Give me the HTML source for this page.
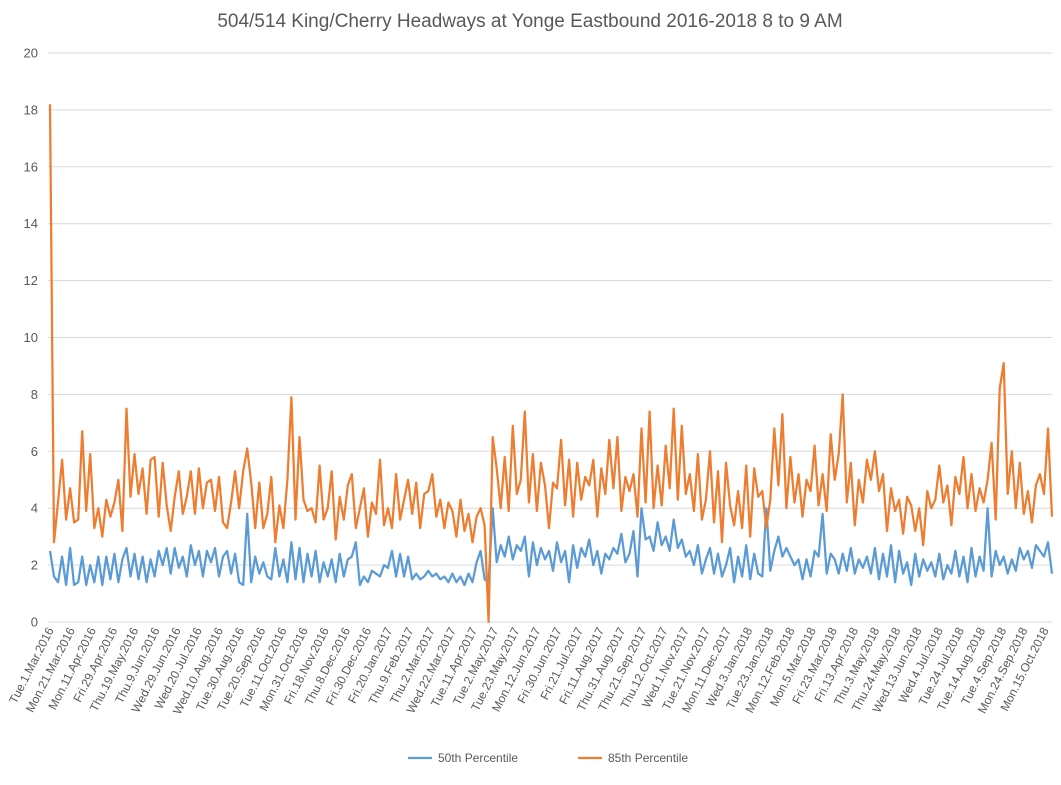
<!DOCTYPE html>
<html><head><meta charset="utf-8"><style>
body{margin:0;background:#fff;font-family:"Liberation Sans",sans-serif;}
svg text{font-family:"Liberation Sans",sans-serif;fill:#595959;}
</style></head><body>
<svg id="chart" width="1061" height="780" xmlns="http://www.w3.org/2000/svg">
<text x="530" y="27" text-anchor="middle" font-size="19">504/514 King/Cherry Headways at Yonge Eastbound 2016-2018 8 to 9 AM</text>
<g id="grid"></g>
<g id="yaxis"></g>
<g id="xaxis"></g>
<g id="series"></g>
<g>
<line x1="408" y1="758" x2="432" y2="758" stroke="#5B9BD5" stroke-width="2.25"/>
<text x="438" y="762" font-size="12">50th Percentile</text>
<line x1="578" y1="758" x2="602" y2="758" stroke="#ED7D31" stroke-width="2.25"/>
<text x="608" y="762" font-size="12">85th Percentile</text>
</g>
</svg>
<script>
const yTicks=[0,2,4,6,8,10,12,14,16,18,20];
const dateLabels=["Tue.1.Mar.2016","Mon.21.Mar.2016","Mon.11.Apr.2016","Fri.29.Apr.2016","Thu.19.May.2016","Thu.9.Jun.2016","Wed.29.Jun.2016","Wed.20.Jul.2016","Wed.10.Aug.2016","Tue.30.Aug.2016","Tue.20.Sep.2016","Tue.11.Oct.2016","Mon.31.Oct.2016","Fri.18.Nov.2016","Thu.8.Dec.2016","Fri.30.Dec.2016","Fri.20.Jan.2017","Thu.9.Feb.2017","Thu.2.Mar.2017","Wed.22.Mar.2017","Tue.11.Apr.2017","Tue.2.May.2017","Tue.23.May.2017","Mon.12.Jun.2017","Fri.30.Jun.2017","Fri.21.Jul.2017","Fri.11.Aug.2017","Thu.31.Aug.2017","Thu.21.Sep.2017","Thu.12.Oct.2017","Wed.1.Nov.2017","Tue.21.Nov.2017","Mon.11.Dec.2017","Wed.3.Jan.2018","Tue.23.Jan.2018","Mon.12.Feb.2018","Mon.5.Mar.2018","Fri.23.Mar.2018","Fri.13.Apr.2018","Thu.3.May.2018","Thu.24.May.2018","Wed.13.Jun.2018","Wed.4.Jul.2018","Tue.24.Jul.2018","Tue.14.Aug.2018","Tue.4.Sep.2018","Mon.24.Sep.2018","Mon.15.Oct.2018"];
const p85=[18.2,2.8,4.2,5.7,3.6,4.7,3.5,3.6,6.7,3.9,
5.9,3.3,4.0,3.0,4.3,3.7,4.2,5.0,3.2,7.5,
4.4,5.9,4.5,5.4,3.8,5.7,5.8,3.7,5.6,4.1,
3.2,4.4,5.3,3.8,4.4,5.3,3.8,5.4,4.0,4.9,
5.0,3.9,5.1,3.5,3.3,4.2,5.3,4.0,5.3,6.1,
4.9,3.3,4.9,3.3,3.8,5.1,2.8,4.1,3.3,5.0,
7.9,3.6,6.5,4.3,3.9,4.0,3.5,5.5,3.6,4.0,
5.3,2.9,4.4,3.6,4.8,5.2,3.3,4.0,4.7,3.0,
4.2,3.8,5.7,3.4,4.0,3.3,5.2,3.6,4.3,5.0,
3.8,4.9,3.3,4.5,4.6,5.2,3.7,4.3,3.3,4.2,
3.9,3.0,4.3,3.2,3.8,2.8,3.7,4.0,3.4,0.0,
6.5,5.4,4.0,5.8,3.9,6.9,4.5,5.0,7.4,4.2,
5.9,3.9,5.6,4.8,3.3,4.9,4.7,6.4,4.1,5.7,
3.7,5.6,4.3,5.1,4.8,5.7,3.7,5.4,4.5,6.4,
4.7,6.5,3.9,5.1,4.6,5.2,3.7,6.8,4.2,7.4,
4.0,5.5,4.1,6.2,4.7,7.5,4.3,6.9,4.5,5.2,
3.9,5.9,3.6,4.3,6.0,3.5,5.3,2.8,5.6,4.1,
3.4,4.6,3.3,5.5,3.0,5.4,4.4,4.6,3.3,4.3,
6.8,4.8,7.3,4.0,5.8,4.2,5.2,3.7,5.0,4.6,
6.2,4.1,5.2,3.9,6.6,5.0,5.9,8.0,4.2,5.6,
3.4,5.0,4.2,5.7,5.0,6.0,4.6,5.2,3.2,4.7,
3.9,4.3,3.1,4.4,4.1,3.2,4.0,2.7,4.6,4.0,
4.3,5.5,4.2,4.8,3.4,5.1,4.5,5.8,4.0,5.2,
3.9,4.7,4.2,5.0,6.3,3.6,8.2,9.1,4.5,6.0,
4.0,5.6,3.8,4.6,3.5,4.8,5.2,4.5,6.8,3.7];
const p50=[2.5,1.6,1.4,2.3,1.3,2.6,1.3,1.4,2.3,1.3,
2.0,1.4,2.3,1.3,2.3,1.5,2.4,1.4,2.2,2.6,
1.6,2.4,1.5,2.3,1.4,2.2,1.6,2.5,2.0,2.6,
1.7,2.6,1.9,2.3,1.6,2.7,2.0,2.5,1.6,2.5,
2.1,2.6,1.6,2.3,2.5,1.7,2.4,1.4,1.3,3.8,
1.4,2.3,1.7,2.1,1.6,1.5,2.6,1.6,2.2,1.4,
2.8,1.5,2.6,1.4,2.4,1.6,2.5,1.4,2.1,1.6,
2.2,1.4,2.4,1.6,2.2,2.3,2.8,1.3,1.6,1.4,
1.8,1.7,1.6,2.0,1.9,2.5,1.6,2.4,1.6,2.3,
1.5,1.7,1.5,1.6,1.8,1.6,1.7,1.5,1.6,1.4,
1.7,1.4,1.6,1.3,1.7,1.4,2.1,2.5,1.5,1.4,
4.0,2.1,2.7,2.3,3.0,2.2,2.7,2.5,3.0,1.6,
2.8,2.0,2.6,2.2,2.5,1.8,2.8,2.1,2.5,1.4,
2.7,1.9,2.6,2.3,2.9,2.0,2.5,1.7,2.4,2.2,
2.6,2.4,3.1,2.1,2.4,3.2,1.6,4.0,2.9,3.0,
2.5,3.5,2.7,3.0,2.5,3.6,2.6,2.9,2.3,2.5,
2.0,2.7,1.7,2.2,2.6,1.7,2.4,1.6,2.0,2.6,
1.4,2.3,1.6,2.7,1.5,2.4,1.7,1.6,4.0,1.8,
2.5,3.0,2.3,2.6,2.3,2.0,2.2,1.5,2.2,1.6,
2.5,2.3,3.8,1.7,2.4,2.2,1.7,2.4,1.8,2.6,
1.7,2.2,1.9,2.3,1.7,2.6,1.5,2.4,1.6,2.7,
1.4,2.5,1.7,2.1,1.3,2.4,1.6,2.2,1.8,2.1,
1.6,2.4,1.5,2.0,1.7,2.5,1.6,2.3,1.4,2.6,
1.6,2.3,1.8,4.0,1.6,2.5,2.0,2.3,1.7,2.2,
1.8,2.6,2.2,2.5,1.9,2.7,2.5,2.3,2.8,1.7];

const NS="http://www.w3.org/2000/svg";
const X0=50,X1=1052,Y0=622,Y20=53;
function yScale(v){return Y0-(v/20)*(Y0-Y20);}
function xScale(i,n){return X0+i*(X1-X0)/(n-1);}
function xLabel(k){return X0+k*21.17;}
function mk(tag,attrs,parent){const e=document.createElementNS(NS,tag);for(const k in attrs)e.setAttribute(k,attrs[k]);parent.appendChild(e);return e;}
const grid=document.getElementById('grid'),ya=document.getElementById('yaxis'),xa=document.getElementById('xaxis'),ser=document.getElementById('series');
yTicks.forEach(t=>{
  const y=yScale(t);
  const l=mk('line',{x1:48,x2:X1,y1:y,y2:y,stroke:'#d9d9d9','stroke-width':1},grid);
  
  
  const tx=mk('text',{x:38,y:y+4.5,'text-anchor':'end','font-size':13},ya);
  
  
  tx.textContent=t;
});
dateLabels.forEach((d,k)=>{
  const x=xLabel(k);
  const tx=mk('text',{x:x+4,y:630,'text-anchor':'end','font-size':12,transform:'rotate(-63 '+(x+4)+' 630)'},xa);
  
  
  tx.textContent=d;
});
function line(vals,color,name){
  const pts=vals.map((v,i)=>xScale(i,vals.length).toFixed(1)+','+yScale(v).toFixed(1)).join(' ');
  const p=mk('polyline',{points:pts,fill:'none',stroke:color,'stroke-width':2.25,'stroke-linejoin':'round'},ser);
  
  
}
line(p50,'#5B9BD5','line-50th-percentile');
line(p85,'#ED7D31','line-85th-percentile');
</script>
</body></html>
